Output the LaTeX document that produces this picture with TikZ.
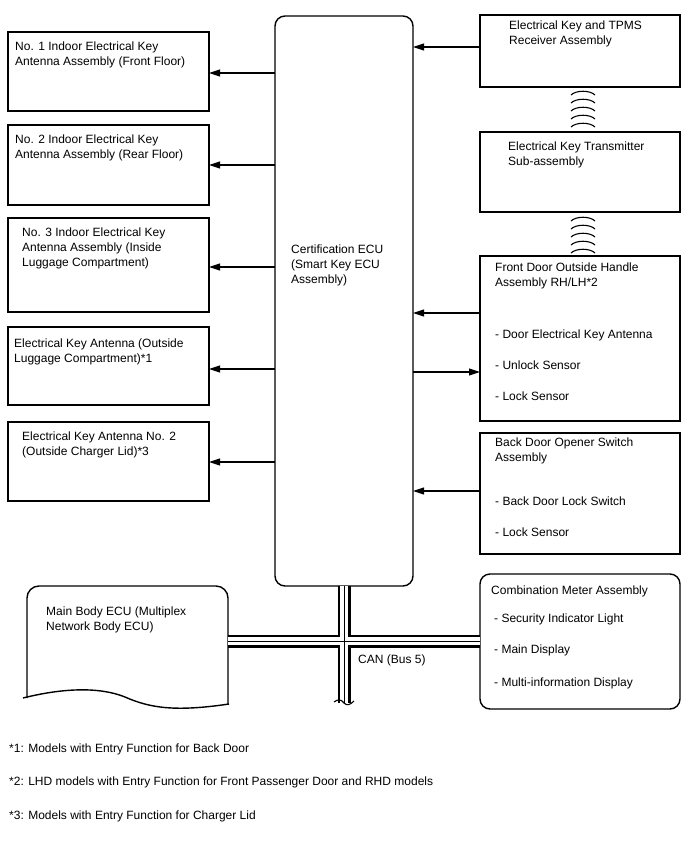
\documentclass[tikz,border=0pt]{standalone}
\usepackage{fontspec}
\setmainfont{Liberation Sans}
\usetikzlibrary{arrows.meta}
\tikzset{
  box/.style={draw, line width=1.4pt, anchor=north west, inner sep=0pt, outer sep=0pt},
  lbl/.style={anchor=north west, inner sep=0pt, align=left, font=\fontsize{12}{15}\selectfont},
  arr/.style={line width=1.1pt, -{Triangle[length=11pt,width=7pt]}},
  wavy/.style={line width=1.1pt},
}
\begin{document}
\begin{tikzpicture}[x=1pt,y=-1pt]
\useasboundingbox[fill=white] (0,0) rectangle (688,852);

% Certification ECU
\node[box, rounded corners=10pt, minimum width=138pt, minimum height=570pt] (ecu) at (275,16) {};
\node[lbl] (ecut) at (291,245) {Certification ECU\\(Smart Key ECU\\Assembly)};

% left boxes
\node[box, minimum width=201pt, minimum height=79pt] (b1) at (8,32) {};
\node[lbl] (b1t) at (15,42) {No. 1 Indoor Electrical Key\\Antenna Assembly (Front Floor)};
\node[box, minimum width=201pt, minimum height=80pt] (b2) at (8,125) {};
\node[lbl] (b2t) at (15,135) {No. 2 Indoor Electrical Key\\Antenna Assembly (Rear Floor)};
\node[box, minimum width=201pt, minimum height=94pt] (b3) at (8,218) {};
\node[lbl] (b3t) at (22,228) {No. 3 Indoor Electrical Key\\Antenna Assembly (Inside\\Luggage Compartment)};
\node[box, minimum width=201pt, minimum height=78pt] (b4) at (8,327) {};
\node[lbl] (b4t) at (14,339) {Electrical Key Antenna (Outside\\Luggage Compartment)*1};
\node[box, minimum width=201pt, minimum height=79pt] (b5) at (8,422) {};
\node[lbl] (b5t) at (22,432) {Electrical Key Antenna No. 2\\(Outside Charger Lid)*3};

\draw[arr] (ecu.west |- 0,73) -- (b1.east |- 0,73);
\draw[arr] (ecu.west |- 0,165) -- (b2.east |- 0,165);
\draw[arr] (ecu.west |- 0,267) -- (b3.east |- 0,267);
\draw[arr] (ecu.west |- 0,369) -- (b4.east |- 0,369);
\draw[arr] (ecu.west |- 0,462) -- (b5.east |- 0,462);

% right boxes
\node[box, minimum width=200pt, minimum height=72pt] (r1) at (480,15) {};
\node[lbl] (r1t) at (509,21) {Electrical Key and TPMS\\Receiver Assembly};
\node[box, minimum width=200pt, minimum height=80pt] (r2) at (480,132) {};
\node[lbl] (r2t) at (508,142) {Electrical Key Transmitter\\Sub-assembly};
\node[box, minimum width=200pt, minimum height=165pt] (r3) at (480,256) {};
\node[lbl] (r3t) at (495,263) {Front Door Outside Handle\\Assembly RH/LH*2};
\node[lbl] (r3a) at (495,330) {- Door Electrical Key Antenna};
\node[lbl] (r3b) at (495,361) {- Unlock Sensor};
\node[lbl] (r3c) at (495,392) {- Lock Sensor};
\node[box, minimum width=200pt, minimum height=121pt] (r4) at (480,433) {};
\node[lbl] (r4t) at (495,438) {Back Door Opener Switch\\Assembly};
\node[lbl] (r4a) at (495,497) {- Back Door Lock Switch};
\node[lbl] (r4b) at (495,528) {- Lock Sensor};
\node[box, rounded corners=10pt, minimum width=200pt, minimum height=135pt] (r5) at (480,574) {};
\node[lbl] (r5t) at (491,586) {Combination Meter Assembly};
\node[lbl] (r5a) at (494,614) {- Security Indicator Light};
\node[lbl] (r5b) at (494,645) {- Main Display};
\node[lbl] (r5c) at (494,678) {- Multi-information Display};

\draw[arr] (r1.west |- 0,47) -- (ecu.east |- 0,47);
\draw[arr] (r3.west |- 0,313) -- (ecu.east |- 0,313);
\draw[arr] (ecu.east |- 0,372) -- (r3.west |- 0,372);
\draw[arr] (r4.west |- 0,491) -- (ecu.east |- 0,491);

% wireless symbols
\foreach \y in {91,99,107,115,123}
  \draw[wavy] (571,\y+4) .. controls (576,\y-1) and (590,\y-1) .. (595,\y+4);
\foreach \y in {217,225,233,241,249}
  \draw[wavy] (571,\y+4) .. controls (576,\y-1) and (590,\y-1) .. (595,\y+4);

% Main Body ECU
\node[anchor=north west, inner sep=0pt, outer sep=0pt, minimum width=201pt, minimum height=118pt] (mb) at (27,586) {};
\draw[line width=1.4pt, rounded corners=12pt] (27,698) -- (27,586) -- (228,586) -- (228,704);
\draw[line width=1.4pt] (23,698) .. controls (55,690) and (95,685) .. (125,697) .. controls (150,708) and (175,712) .. (229,704);
\node[lbl] (mbt) at (46,607) {Main Body ECU (Multiplex\\Network Body ECU)};

% CAN bus
\foreach \w/\c in {13pt/black, 8pt/white, 1pt/black} {
  \draw[line width=\w, draw=\c] (mb.east |- 0,641) -- (r5.west |- 0,641);
  \draw[line width=\w, draw=\c] (ecu.south) -- (ecu.south |- 0,703);
}
\draw[wavy] (334,702) .. controls (338,699) and (341,699) .. (344,703) .. controls (347,706) and (350,705) .. (354,701);
\node[lbl] (can) at (358,655) {CAN (Bus 5)};

% footnotes
\node[lbl] (n1) at (9,744) {*1: Models with Entry Function for Back Door};
\node[lbl] (n2) at (9,777) {*2: LHD models with Entry Function for Front Passenger Door and RHD models};
\node[lbl] (n3) at (9,811) {*3: Models with Entry Function for Charger Lid};
\end{tikzpicture}
\end{document}
